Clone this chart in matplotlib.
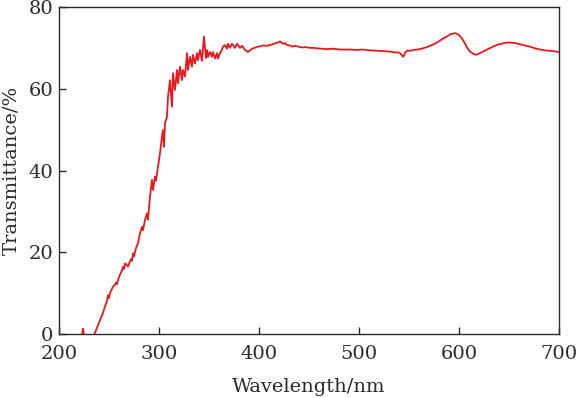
import numpy as np
import matplotlib
matplotlib.use("Agg")
import matplotlib.pyplot as plt

# values
wavelength = [222, 224, 226, 233, 236, 238, 241, 243, 246, 248, 249, 250, 251, 254, 256,
              257, 258, 259, 261, 263, 264, 265, 266, 269, 271, 272, 273, 274, 275, 277,
              279, 281, 283, 284, 286, 288, 289, 291,
              293, 294, 296, 297, 299, 301, 303, 304, 305, 306, 308, 309, 311, 313, 314,
              316, 318, 319, 321, 323, 324, 326, 328, 329, 331, 333, 334, 336, 338, 339,
              341, 343, 345, 347, 348, 349, 351, 353, 354, 356, 358, 359, 361, 363, 364,
              366, 368, 369, 371, 373, 376, 378, 381, 383, 386, 389, 392, 394, 397, 399,
              402, 404, 408, 411, 414, 416, 419, 421, 423, 424, 426, 428, 431, 433, 436,
              438, 441, 444, 447, 451, 455, 458, 463, 468, 474, 481, 491, 498, 504, 511,
              518, 525, 531, 536, 539, 541, 543, 544, 545, 546, 548, 551, 555, 558, 561,
              564, 568, 573, 578, 583, 588, 592, 596, 599, 601, 603, 606, 608, 611, 614,
              617, 620, 624, 629, 634, 639, 644, 648, 651, 656, 661, 666, 671, 676, 681,
              686, 691, 695, 699, 700]
transmittance = [-2.0, 1.3, -2.0, -1.5, 0.3, 1.5, 3.4, 4.5, 6.7, 8.0, 9.5, 8.8, 10.0, 11.6, 12.0,
                 12.6, 12.2, 13.2, 14.5, 15.6, 16.4, 15.9, 17.3, 16.5, 17.7, 18.3, 17.9, 19.7, 19.0, 21.0,
                 22.2, 24.6, 26.2, 25.4, 27.9, 29.5, 28.0, 33.6,
                 37.7, 35.2, 38.5, 37.5, 40.9, 44.2, 48.3, 49.9, 45.8, 51.5, 53.2, 58.0, 62.1, 55.6, 63.8,
                 59.7, 64.6, 61.3, 65.4, 62.1, 64.6, 63.0, 68.7, 64.6, 67.8, 65.4, 68.3, 66.2, 68.7, 67.0,
                 69.5, 66.8, 72.8, 67.5, 69.5, 67.8, 69.0, 67.8, 69.0, 67.4, 68.7, 67.4, 68.7, 69.5, 70.3,
                 70.7, 69.8, 71.0, 70.0, 71.0, 70.0, 71.0, 70.0, 70.5, 69.5, 69.0, 69.6, 69.9, 70.1, 70.3,
                 70.4, 70.6, 70.5, 70.7, 70.9, 71.1, 71.3, 71.6, 71.2, 71.0, 71.2, 70.7, 70.6, 70.3, 70.5,
                 70.4, 70.2, 70.1, 70.2, 70.0, 70.0, 69.9, 69.8, 69.7, 69.8, 69.6, 69.6, 69.5, 69.6, 69.4,
                 69.3, 69.2, 69.1, 68.9, 68.9, 68.7, 68.2, 67.8, 68.1, 68.8, 69.3, 69.3, 69.5, 69.6, 69.7,
                 69.9, 70.2, 70.7, 71.3, 72.1, 72.8, 73.4, 73.6, 73.3, 72.9, 72.3, 71.1, 70.1, 69.1, 68.6,
                 68.3, 68.6, 69.1, 69.7, 70.3, 70.8, 71.1, 71.3, 71.3, 71.2, 70.9, 70.6, 70.3, 69.9, 69.6,
                 69.4, 69.3, 69.2, 69.0, 69.0]

x_ticks = [200, 300, 400, 500, 600, 700]
y_ticks = [0, 20, 40, 60, 80]

plt.rcParams["font.family"] = ["DejaVu Serif"]

fig = plt.figure(figsize=(5.8, 3.98), dpi=100)
ax = fig.add_axes([0.1017, 0.1608, 0.862, 0.8216])

tick_fontsize = 14
label_fontsize = 14
text_color = "#2a2a2a"

ax.plot(wavelength, transmittance, color="#e8191e", linewidth=1.3)

ax.set_xlim(200, 700)
ax.set_ylim(0, 80)
ax.set_xticks(x_ticks)
ax.set_yticks(y_ticks)

ax.tick_params(direction="in", length=5, width=1, colors=text_color, labelcolor=text_color,
               labelsize=tick_fontsize)
ax.tick_params(axis="x", pad=8)
ax.tick_params(axis="y", pad=4)
for side in ax.spines.values():
    side.set_linewidth(1)
    side.set_color(text_color)

ax.set_xlabel("Wavelength/nm", fontsize=label_fontsize, color=text_color, labelpad=11)
ax.set_ylabel("Transmittance/%", fontsize=label_fontsize, color=text_color, labelpad=6)

plt.savefig("out.png", dpi=100)
